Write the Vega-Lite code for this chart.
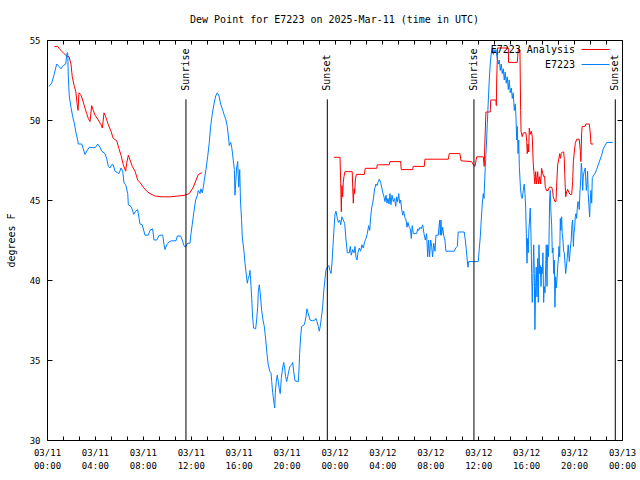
{
  "$schema": "https://vega.github.io/schema/vega-lite/v6.json",
  "width": 575,
  "height": 400,
  "autosize": {"type": "none"},
  "padding": {"left": 47, "top": 40, "right": 18, "bottom": 40},
  "background": "white",
  "title": {"text": "Dew Point for E7223 on 2025-Mar-11 (time in UTC)", "font": "DejaVu Sans Mono", "fontSize": 10, "fontWeight": "normal", "anchor": "middle", "offset": 11, "color": "black"},
  "config": {
    "view": {"stroke": "black", "strokeWidth": 1},
    "axis": {"labelFont": "DejaVu Sans Mono", "titleFont": "DejaVu Sans Mono", "labelColor": "black", "titleColor": "black", "domain": false, "tickColor": "black", "grid": false}
  },
  "datasets": {
    "obs": [
      {"series":"E7223 Analysis","seg":1,"hour":0.61,"dp":54.6},{"series":"E7223 Analysis","seg":1,"hour":0.89,"dp":54.6},{"series":"E7223 Analysis","seg":1,"hour":1.09,"dp":54.4},{"series":"E7223 Analysis","seg":1,"hour":1.36,"dp":54.2},{"series":"E7223 Analysis","seg":1,"hour":1.64,"dp":54.0},{"series":"E7223 Analysis","seg":1,"hour":1.84,"dp":53.96},{"series":"E7223 Analysis","seg":1,"hour":2.0,"dp":53.5},{"series":"E7223 Analysis","seg":1,"hour":2.11,"dp":52.7},{"series":"E7223 Analysis","seg":1,"hour":2.28,"dp":52.1},{"series":"E7223 Analysis","seg":1,"hour":2.4,"dp":51.8},{"series":"E7223 Analysis","seg":1,"hour":2.5,"dp":51.1},{"series":"E7223 Analysis","seg":1,"hour":2.59,"dp":50.6},{"series":"E7223 Analysis","seg":1,"hour":2.67,"dp":51.7},{"series":"E7223 Analysis","seg":1,"hour":2.81,"dp":51.6},{"series":"E7223 Analysis","seg":1,"hour":2.98,"dp":51.25},{"series":"E7223 Analysis","seg":1,"hour":3.11,"dp":50.9},{"series":"E7223 Analysis","seg":1,"hour":3.31,"dp":50.4},{"series":"E7223 Analysis","seg":1,"hour":3.45,"dp":50.1},{"series":"E7223 Analysis","seg":1,"hour":3.59,"dp":49.9},{"series":"E7223 Analysis","seg":1,"hour":3.73,"dp":50.9},{"series":"E7223 Analysis","seg":1,"hour":3.86,"dp":50.6},{"series":"E7223 Analysis","seg":1,"hour":4.01,"dp":50.3},{"series":"E7223 Analysis","seg":1,"hour":4.28,"dp":50.0},{"series":"E7223 Analysis","seg":1,"hour":4.51,"dp":49.7},{"series":"E7223 Analysis","seg":1,"hour":4.62,"dp":49.5},{"series":"E7223 Analysis","seg":1,"hour":4.76,"dp":50.45},{"series":"E7223 Analysis","seg":1,"hour":4.9,"dp":50.2},{"series":"E7223 Analysis","seg":1,"hour":5.12,"dp":49.7},{"series":"E7223 Analysis","seg":1,"hour":5.34,"dp":49.3},{"series":"E7223 Analysis","seg":1,"hour":5.53,"dp":48.85},{"series":"E7223 Analysis","seg":1,"hour":5.82,"dp":48.7},{"series":"E7223 Analysis","seg":1,"hour":6.01,"dp":48.2},{"series":"E7223 Analysis","seg":1,"hour":6.18,"dp":47.8},{"series":"E7223 Analysis","seg":1,"hour":6.37,"dp":47.2},{"series":"E7223 Analysis","seg":1,"hour":6.57,"dp":46.8},{"series":"E7223 Analysis","seg":1,"hour":6.65,"dp":47.3},{"series":"E7223 Analysis","seg":1,"hour":6.79,"dp":47.8},{"series":"E7223 Analysis","seg":1,"hour":6.93,"dp":47.5},{"series":"E7223 Analysis","seg":1,"hour":7.12,"dp":47.1},{"series":"E7223 Analysis","seg":1,"hour":7.35,"dp":46.8},{"series":"E7223 Analysis","seg":1,"hour":7.57,"dp":46.25},{"series":"E7223 Analysis","seg":1,"hour":7.76,"dp":46.1},{"series":"E7223 Analysis","seg":1,"hour":8.04,"dp":45.8},{"series":"E7223 Analysis","seg":1,"hour":8.32,"dp":45.55},{"series":"E7223 Analysis","seg":1,"hour":8.6,"dp":45.4},{"series":"E7223 Analysis","seg":1,"hour":9.01,"dp":45.25},{"series":"E7223 Analysis","seg":1,"hour":9.57,"dp":45.2},{"series":"E7223 Analysis","seg":1,"hour":10.27,"dp":45.2},{"series":"E7223 Analysis","seg":1,"hour":10.96,"dp":45.25},{"series":"E7223 Analysis","seg":1,"hour":11.52,"dp":45.3},{"series":"E7223 Analysis","seg":1,"hour":11.88,"dp":45.4},{"series":"E7223 Analysis","seg":1,"hour":12.21,"dp":45.8},{"series":"E7223 Analysis","seg":1,"hour":12.63,"dp":46.6},{"series":"E7223 Analysis","seg":1,"hour":12.91,"dp":46.7},
      {"series":"E7223 Analysis","seg":2,"hour":23.96,"dp":47.67},{"series":"E7223 Analysis","seg":2,"hour":24.46,"dp":47.67},{"series":"E7223 Analysis","seg":2,"hour":24.52,"dp":46.04},{"series":"E7223 Analysis","seg":2,"hour":24.57,"dp":44.27},{"series":"E7223 Analysis","seg":2,"hour":24.62,"dp":45.9},{"series":"E7223 Analysis","seg":2,"hour":24.68,"dp":45.2},{"series":"E7223 Analysis","seg":2,"hour":24.73,"dp":46.08},{"series":"E7223 Analysis","seg":2,"hour":24.79,"dp":46.46},{"series":"E7223 Analysis","seg":2,"hour":24.87,"dp":46.77},{"series":"E7223 Analysis","seg":2,"hour":25.48,"dp":46.77},{"series":"E7223 Analysis","seg":2,"hour":25.52,"dp":45.8},{"series":"E7223 Analysis","seg":2,"hour":25.57,"dp":44.8},{"series":"E7223 Analysis","seg":2,"hour":25.63,"dp":45.7},{"series":"E7223 Analysis","seg":2,"hour":25.68,"dp":45.4},{"series":"E7223 Analysis","seg":2,"hour":25.74,"dp":46.25},{"series":"E7223 Analysis","seg":2,"hour":25.82,"dp":46.6},{"series":"E7223 Analysis","seg":2,"hour":26.49,"dp":46.6},{"series":"E7223 Analysis","seg":2,"hour":26.57,"dp":46.98},{"series":"E7223 Analysis","seg":2,"hour":27.52,"dp":46.98},{"series":"E7223 Analysis","seg":2,"hour":27.57,"dp":47.2},{"series":"E7223 Analysis","seg":2,"hour":28.57,"dp":47.2},{"series":"E7223 Analysis","seg":2,"hour":28.63,"dp":47.4},{"series":"E7223 Analysis","seg":2,"hour":29.52,"dp":47.4},{"series":"E7223 Analysis","seg":2,"hour":29.57,"dp":46.9},{"series":"E7223 Analysis","seg":2,"hour":30.52,"dp":46.9},{"series":"E7223 Analysis","seg":2,"hour":30.58,"dp":47.1},{"series":"E7223 Analysis","seg":2,"hour":31.49,"dp":47.1},{"series":"E7223 Analysis","seg":2,"hour":31.55,"dp":47.55},{"series":"E7223 Analysis","seg":2,"hour":33.5,"dp":47.55},{"series":"E7223 Analysis","seg":2,"hour":33.58,"dp":47.9},{"series":"E7223 Analysis","seg":2,"hour":34.47,"dp":47.9},{"series":"E7223 Analysis","seg":2,"hour":34.56,"dp":47.45},{"series":"E7223 Analysis","seg":2,"hour":35.45,"dp":47.4},{"series":"E7223 Analysis","seg":2,"hour":35.59,"dp":47.2},{"series":"E7223 Analysis","seg":2,"hour":35.73,"dp":47.1},{"series":"E7223 Analysis","seg":2,"hour":35.87,"dp":47.7},{"series":"E7223 Analysis","seg":2,"hour":36.42,"dp":47.7},{"series":"E7223 Analysis","seg":2,"hour":36.5,"dp":47.1},{"series":"E7223 Analysis","seg":2,"hour":36.56,"dp":48.75},{"series":"E7223 Analysis","seg":2,"hour":36.64,"dp":50.5},{"series":"E7223 Analysis","seg":2,"hour":37.0,"dp":50.5},{"series":"E7223 Analysis","seg":2,"hour":37.04,"dp":51.25},{"series":"E7223 Analysis","seg":2,"hour":37.48,"dp":51.25},{"series":"E7223 Analysis","seg":2,"hour":37.51,"dp":50.9},{"series":"E7223 Analysis","seg":2,"hour":37.54,"dp":52.5},{"series":"E7223 Analysis","seg":2,"hour":37.62,"dp":54.5},{"series":"E7223 Analysis","seg":2,"hour":38.51,"dp":54.5},{"series":"E7223 Analysis","seg":2,"hour":38.53,"dp":53.6},{"series":"E7223 Analysis","seg":2,"hour":39.26,"dp":53.6},{"series":"E7223 Analysis","seg":2,"hour":39.34,"dp":54.4},{"series":"E7223 Analysis","seg":2,"hour":39.48,"dp":54.4},{"series":"E7223 Analysis","seg":2,"hour":39.54,"dp":50.6},{"series":"E7223 Analysis","seg":2,"hour":39.57,"dp":49.3},{"series":"E7223 Analysis","seg":2,"hour":39.67,"dp":48.96},{"series":"E7223 Analysis","seg":2,"hour":39.76,"dp":49.2},{"series":"E7223 Analysis","seg":2,"hour":39.98,"dp":49.2},{"series":"E7223 Analysis","seg":2,"hour":40.04,"dp":48.75},{"series":"E7223 Analysis","seg":2,"hour":40.09,"dp":47.9},{"series":"E7223 Analysis","seg":2,"hour":40.15,"dp":48.5},{"series":"E7223 Analysis","seg":2,"hour":40.21,"dp":48.0},{"series":"E7223 Analysis","seg":2,"hour":40.26,"dp":49.5},{"series":"E7223 Analysis","seg":2,"hour":40.34,"dp":49.1},{"series":"E7223 Analysis","seg":2,"hour":40.43,"dp":49.3},{"series":"E7223 Analysis","seg":2,"hour":40.51,"dp":48.96},{"series":"E7223 Analysis","seg":2,"hour":40.59,"dp":47.3},{"series":"E7223 Analysis","seg":2,"hour":40.68,"dp":46.46},{"series":"E7223 Analysis","seg":2,"hour":40.73,"dp":46.0},{"series":"E7223 Analysis","seg":2,"hour":40.79,"dp":46.77},{"series":"E7223 Analysis","seg":2,"hour":40.87,"dp":46.0},{"series":"E7223 Analysis","seg":2,"hour":40.96,"dp":46.77},{"series":"E7223 Analysis","seg":2,"hour":41.04,"dp":46.0},{"series":"E7223 Analysis","seg":2,"hour":41.13,"dp":46.46},{"series":"E7223 Analysis","seg":2,"hour":41.21,"dp":46.0},{"series":"E7223 Analysis","seg":2,"hour":41.29,"dp":46.98},{"series":"E7223 Analysis","seg":2,"hour":41.38,"dp":46.67},{"series":"E7223 Analysis","seg":2,"hour":41.46,"dp":46.46},{"series":"E7223 Analysis","seg":2,"hour":41.54,"dp":46.5},{"series":"E7223 Analysis","seg":2,"hour":41.59,"dp":45.83},{"series":"E7223 Analysis","seg":2,"hour":41.71,"dp":45.58},{"series":"E7223 Analysis","seg":2,"hour":41.84,"dp":45.6},{"series":"E7223 Analysis","seg":2,"hour":41.93,"dp":45.8},{"series":"E7223 Analysis","seg":2,"hour":42.13,"dp":45.8},{"series":"E7223 Analysis","seg":2,"hour":42.21,"dp":45.58},{"series":"E7223 Analysis","seg":2,"hour":42.26,"dp":45.2},{"series":"E7223 Analysis","seg":2,"hour":42.4,"dp":44.9},{"series":"E7223 Analysis","seg":2,"hour":42.49,"dp":44.9},{"series":"E7223 Analysis","seg":2,"hour":42.55,"dp":46.0},{"series":"E7223 Analysis","seg":2,"hour":42.63,"dp":47.2},{"series":"E7223 Analysis","seg":2,"hour":42.71,"dp":47.5},{"series":"E7223 Analysis","seg":2,"hour":42.8,"dp":47.9},{"series":"E7223 Analysis","seg":2,"hour":42.85,"dp":47.6},{"series":"E7223 Analysis","seg":2,"hour":42.93,"dp":47.9},{"series":"E7223 Analysis","seg":2,"hour":43.01,"dp":48.0},{"series":"E7223 Analysis","seg":2,"hour":43.13,"dp":48.0},{"series":"E7223 Analysis","seg":2,"hour":43.18,"dp":47.6},{"series":"E7223 Analysis","seg":2,"hour":43.24,"dp":46.25},{"series":"E7223 Analysis","seg":2,"hour":43.3,"dp":45.2},{"series":"E7223 Analysis","seg":2,"hour":43.38,"dp":45.5},{"series":"E7223 Analysis","seg":2,"hour":43.46,"dp":45.67},{"series":"E7223 Analysis","seg":2,"hour":43.55,"dp":45.5},{"series":"E7223 Analysis","seg":2,"hour":43.66,"dp":45.35},{"series":"E7223 Analysis","seg":2,"hour":43.8,"dp":45.35},{"series":"E7223 Analysis","seg":2,"hour":43.88,"dp":46.15},{"series":"E7223 Analysis","seg":2,"hour":43.94,"dp":47.4},{"series":"E7223 Analysis","seg":2,"hour":44.02,"dp":48.0},{"series":"E7223 Analysis","seg":2,"hour":44.1,"dp":48.54},{"series":"E7223 Analysis","seg":2,"hour":44.22,"dp":48.8},{"series":"E7223 Analysis","seg":2,"hour":44.43,"dp":48.8},{"series":"E7223 Analysis","seg":2,"hour":44.52,"dp":48.1},{"series":"E7223 Analysis","seg":2,"hour":44.57,"dp":47.4},{"series":"E7223 Analysis","seg":2,"hour":44.63,"dp":49.2},{"series":"E7223 Analysis","seg":2,"hour":44.68,"dp":49.6},{"series":"E7223 Analysis","seg":2,"hour":44.91,"dp":49.6},{"series":"E7223 Analysis","seg":2,"hour":44.99,"dp":49.75},{"series":"E7223 Analysis","seg":2,"hour":45.27,"dp":49.75},{"series":"E7223 Analysis","seg":2,"hour":45.35,"dp":49.2},{"series":"E7223 Analysis","seg":2,"hour":45.41,"dp":48.5},{"series":"E7223 Analysis","seg":2,"hour":45.6,"dp":48.5},
      {"series":"E7223","seg":3,"hour":0.17,"dp":52.1},{"series":"E7223","seg":3,"hour":0.39,"dp":52.3},{"series":"E7223","seg":3,"hour":0.58,"dp":52.8},{"series":"E7223","seg":3,"hour":0.81,"dp":53.5},{"series":"E7223","seg":3,"hour":0.94,"dp":53.4},{"series":"E7223","seg":3,"hour":1.17,"dp":53.2},{"series":"E7223","seg":3,"hour":1.36,"dp":53.4},{"series":"E7223","seg":3,"hour":1.56,"dp":53.5},{"series":"E7223","seg":3,"hour":1.67,"dp":54.2},{"series":"E7223","seg":3,"hour":1.73,"dp":54.2},{"series":"E7223","seg":3,"hour":1.78,"dp":52.7},{"series":"E7223","seg":3,"hour":1.86,"dp":51.5},{"series":"E7223","seg":3,"hour":2.0,"dp":50.8},{"series":"E7223","seg":3,"hour":2.15,"dp":50.2},{"series":"E7223","seg":3,"hour":2.28,"dp":49.8},{"series":"E7223","seg":3,"hour":2.42,"dp":49.2},{"series":"E7223","seg":3,"hour":2.56,"dp":48.75},{"series":"E7223","seg":3,"hour":2.61,"dp":48.5},{"series":"E7223","seg":3,"hour":2.9,"dp":48.5},{"series":"E7223","seg":3,"hour":3.03,"dp":48.2},{"series":"E7223","seg":3,"hour":3.17,"dp":47.85},{"series":"E7223","seg":3,"hour":3.31,"dp":48.05},{"series":"E7223","seg":3,"hour":3.53,"dp":48.3},{"series":"E7223","seg":3,"hour":3.86,"dp":48.27},{"series":"E7223","seg":3,"hour":4.07,"dp":48.3},{"series":"E7223","seg":3,"hour":4.23,"dp":48.5},{"series":"E7223","seg":3,"hour":4.42,"dp":48.3},{"series":"E7223","seg":3,"hour":4.57,"dp":48.05},{"series":"E7223","seg":3,"hour":4.84,"dp":47.9},{"series":"E7223","seg":3,"hour":4.98,"dp":47.6},{"series":"E7223","seg":3,"hour":5.12,"dp":47.1},{"series":"E7223","seg":3,"hour":5.26,"dp":47.0},{"series":"E7223","seg":3,"hour":5.4,"dp":47.2},{"series":"E7223","seg":3,"hour":5.53,"dp":47.2},{"series":"E7223","seg":3,"hour":5.68,"dp":46.8},{"series":"E7223","seg":3,"hour":5.9,"dp":46.7},{"series":"E7223","seg":3,"hour":6.01,"dp":46.65},{"series":"E7223","seg":3,"hour":6.18,"dp":47.0},{"series":"E7223","seg":3,"hour":6.32,"dp":46.8},{"series":"E7223","seg":3,"hour":6.43,"dp":46.05},{"series":"E7223","seg":3,"hour":6.57,"dp":45.95},{"series":"E7223","seg":3,"hour":6.74,"dp":45.4},{"series":"E7223","seg":3,"hour":6.79,"dp":44.7},{"series":"E7223","seg":3,"hour":7.01,"dp":44.6},{"series":"E7223","seg":3,"hour":7.12,"dp":44.4},{"series":"E7223","seg":3,"hour":7.24,"dp":44.1},{"series":"E7223","seg":3,"hour":7.4,"dp":44.3},{"series":"E7223","seg":3,"hour":7.57,"dp":44.4},{"series":"E7223","seg":3,"hour":7.76,"dp":43.5},{"series":"E7223","seg":3,"hour":7.95,"dp":43.45},{"series":"E7223","seg":3,"hour":8.18,"dp":42.8},{"series":"E7223","seg":3,"hour":8.46,"dp":42.8},{"series":"E7223","seg":3,"hour":8.6,"dp":43.1},{"series":"E7223","seg":3,"hour":8.82,"dp":43.2},{"series":"E7223","seg":3,"hour":8.93,"dp":42.5},{"series":"E7223","seg":3,"hour":9.16,"dp":42.5},{"series":"E7223","seg":3,"hour":9.37,"dp":42.8},{"series":"E7223","seg":3,"hour":9.66,"dp":42.8},{"series":"E7223","seg":3,"hour":9.77,"dp":42.2},{"series":"E7223","seg":3,"hour":9.85,"dp":41.9},{"series":"E7223","seg":3,"hour":9.99,"dp":42.2},{"series":"E7223","seg":3,"hour":10.21,"dp":42.4},{"series":"E7223","seg":3,"hour":10.41,"dp":42.45},{"series":"E7223","seg":3,"hour":10.77,"dp":42.45},{"series":"E7223","seg":3,"hour":10.88,"dp":42.75},{"series":"E7223","seg":3,"hour":11.16,"dp":42.75},{"series":"E7223","seg":3,"hour":11.29,"dp":42.5},{"series":"E7223","seg":3,"hour":11.46,"dp":42.1},{"series":"E7223","seg":3,"hour":11.6,"dp":42.1},{"series":"E7223","seg":3,"hour":11.74,"dp":42.3},{"series":"E7223","seg":3,"hour":11.94,"dp":42.3},{"series":"E7223","seg":3,"hour":12.02,"dp":42.9},{"series":"E7223","seg":3,"hour":12.13,"dp":43.5},{"series":"E7223","seg":3,"hour":12.27,"dp":44.3},{"series":"E7223","seg":3,"hour":12.41,"dp":45.0},{"series":"E7223","seg":3,"hour":12.55,"dp":45.3},{"series":"E7223","seg":3,"hour":12.63,"dp":45.6},{"series":"E7223","seg":3,"hour":12.77,"dp":45.4},{"series":"E7223","seg":3,"hour":12.85,"dp":45.7},{"series":"E7223","seg":3,"hour":12.96,"dp":45.45},{"series":"E7223","seg":3,"hour":13.05,"dp":45.8},{"series":"E7223","seg":3,"hour":13.13,"dp":46.25},{"series":"E7223","seg":3,"hour":13.27,"dp":46.9},{"series":"E7223","seg":3,"hour":13.41,"dp":47.7},{"series":"E7223","seg":3,"hour":13.55,"dp":48.6},{"series":"E7223","seg":3,"hour":13.66,"dp":49.6},{"series":"E7223","seg":3,"hour":13.8,"dp":50.4},{"series":"E7223","seg":3,"hour":13.94,"dp":51.0},{"series":"E7223","seg":3,"hour":14.08,"dp":51.5},{"series":"E7223","seg":3,"hour":14.22,"dp":51.7},{"series":"E7223","seg":3,"hour":14.36,"dp":51.5},{"series":"E7223","seg":3,"hour":14.5,"dp":51.0},{"series":"E7223","seg":3,"hour":14.67,"dp":50.6},{"series":"E7223","seg":3,"hour":14.8,"dp":50.3},{"series":"E7223","seg":3,"hour":14.94,"dp":50.0},{"series":"E7223","seg":3,"hour":15.05,"dp":49.6},{"series":"E7223","seg":3,"hour":15.17,"dp":48.75},{"series":"E7223","seg":3,"hour":15.22,"dp":48.4},{"series":"E7223","seg":3,"hour":15.33,"dp":48.6},{"series":"E7223","seg":3,"hour":15.42,"dp":48.3},{"series":"E7223","seg":3,"hour":15.55,"dp":47.5},{"series":"E7223","seg":3,"hour":15.64,"dp":46.9},{"series":"E7223","seg":3,"hour":15.69,"dp":45.3},{"series":"E7223","seg":3,"hour":15.83,"dp":47.0},{"series":"E7223","seg":3,"hour":15.92,"dp":47.4},{"series":"E7223","seg":3,"hour":16.0,"dp":45.8},{"series":"E7223","seg":3,"hour":16.09,"dp":46.9},{"series":"E7223","seg":3,"hour":16.15,"dp":45.0},{"series":"E7223","seg":3,"hour":16.24,"dp":43.8},{"series":"E7223","seg":3,"hour":16.3,"dp":42.7},{"series":"E7223","seg":3,"hour":16.44,"dp":41.8},{"series":"E7223","seg":3,"hour":16.53,"dp":41.05},{"series":"E7223","seg":3,"hour":16.61,"dp":40.5},{"series":"E7223","seg":3,"hour":16.72,"dp":39.8},{"series":"E7223","seg":3,"hour":16.8,"dp":40.1},{"series":"E7223","seg":3,"hour":16.89,"dp":40.3},{"series":"E7223","seg":3,"hour":16.94,"dp":40.6},{"series":"E7223","seg":3,"hour":17.0,"dp":40.0},{"series":"E7223","seg":3,"hour":17.09,"dp":38.85},{"series":"E7223","seg":3,"hour":17.17,"dp":37.6},{"series":"E7223","seg":3,"hour":17.25,"dp":37.0},{"series":"E7223","seg":3,"hour":17.42,"dp":36.95},{"series":"E7223","seg":3,"hour":17.5,"dp":37.5},{"series":"E7223","seg":3,"hour":17.59,"dp":38.3},{"series":"E7223","seg":3,"hour":17.64,"dp":39.3},{"series":"E7223","seg":3,"hour":17.72,"dp":39.7},{"series":"E7223","seg":3,"hour":17.8,"dp":39.2},{"series":"E7223","seg":3,"hour":17.92,"dp":38.1},{"series":"E7223","seg":3,"hour":18.03,"dp":37.5},{"series":"E7223","seg":3,"hour":18.14,"dp":37.1},{"series":"E7223","seg":3,"hour":18.26,"dp":36.25},{"series":"E7223","seg":3,"hour":18.36,"dp":35.4},{"series":"E7223","seg":3,"hour":18.47,"dp":34.7},{"series":"E7223","seg":3,"hour":18.59,"dp":34.3},{"series":"E7223","seg":3,"hour":18.7,"dp":34.2},{"series":"E7223","seg":3,"hour":18.76,"dp":33.65},{"series":"E7223","seg":3,"hour":18.84,"dp":32.95},{"series":"E7223","seg":3,"hour":18.95,"dp":32.3},{"series":"E7223","seg":3,"hour":19.01,"dp":32.0},{"series":"E7223","seg":3,"hour":19.06,"dp":32.95},{"series":"E7223","seg":3,"hour":19.14,"dp":33.65},{"series":"E7223","seg":3,"hour":19.22,"dp":34.05},{"series":"E7223","seg":3,"hour":19.31,"dp":33.65},{"series":"E7223","seg":3,"hour":19.39,"dp":33.2},{"series":"E7223","seg":3,"hour":19.47,"dp":32.9},{"series":"E7223","seg":3,"hour":19.56,"dp":33.85},{"series":"E7223","seg":3,"hour":19.67,"dp":34.5},{"series":"E7223","seg":3,"hour":19.76,"dp":34.85},{"series":"E7223","seg":3,"hour":19.84,"dp":34.5},{"series":"E7223","seg":3,"hour":19.92,"dp":33.95},{"series":"E7223","seg":3,"hour":20.01,"dp":33.65},{"series":"E7223","seg":3,"hour":20.09,"dp":33.95},{"series":"E7223","seg":3,"hour":20.18,"dp":34.3},{"series":"E7223","seg":3,"hour":20.28,"dp":34.6},{"series":"E7223","seg":3,"hour":20.43,"dp":34.7},{"series":"E7223","seg":3,"hour":20.51,"dp":34.85},{"series":"E7223","seg":3,"hour":20.59,"dp":34.3},{"series":"E7223","seg":3,"hour":20.7,"dp":33.7},{"series":"E7223","seg":3,"hour":20.98,"dp":33.65},{"series":"E7223","seg":3,"hour":21.03,"dp":34.3},{"series":"E7223","seg":3,"hour":21.09,"dp":35.4},{"series":"E7223","seg":3,"hour":21.18,"dp":36.55},{"series":"E7223","seg":3,"hour":21.26,"dp":37.1},{"series":"E7223","seg":3,"hour":21.48,"dp":37.2},{"series":"E7223","seg":3,"hour":21.54,"dp":37.4},{"series":"E7223","seg":3,"hour":21.62,"dp":37.7},{"series":"E7223","seg":3,"hour":21.7,"dp":38.2},{"series":"E7223","seg":3,"hour":21.81,"dp":37.9},{"series":"E7223","seg":3,"hour":21.95,"dp":37.5},{"series":"E7223","seg":3,"hour":22.14,"dp":37.45},{"series":"E7223","seg":3,"hour":22.37,"dp":37.5},{"series":"E7223","seg":3,"hour":22.45,"dp":37.6},{"series":"E7223","seg":3,"hour":22.54,"dp":37.4},{"series":"E7223","seg":3,"hour":22.65,"dp":37.1},{"series":"E7223","seg":3,"hour":22.73,"dp":36.8},{"series":"E7223","seg":3,"hour":22.81,"dp":37.1},{"series":"E7223","seg":3,"hour":22.9,"dp":37.6},{"series":"E7223","seg":3,"hour":23.01,"dp":38.3},{"series":"E7223","seg":3,"hour":23.1,"dp":39.3},{"series":"E7223","seg":3,"hour":23.21,"dp":40.1},{"series":"E7223","seg":3,"hour":23.29,"dp":40.65},{"series":"E7223","seg":3,"hour":23.4,"dp":40.8},{"series":"E7223","seg":3,"hour":23.54,"dp":40.9},{"series":"E7223","seg":3,"hour":23.62,"dp":40.6},{"series":"E7223","seg":3,"hour":23.71,"dp":40.4},{"series":"E7223","seg":3,"hour":23.79,"dp":41.05},{"series":"E7223","seg":3,"hour":23.87,"dp":42.1},{"series":"E7223","seg":3,"hour":23.96,"dp":43.2},{"series":"E7223","seg":3,"hour":24.04,"dp":44.1},{"series":"E7223","seg":3,"hour":24.12,"dp":44.3},{"series":"E7223","seg":3,"hour":24.21,"dp":43.95},{"series":"E7223","seg":3,"hour":24.32,"dp":43.6},{"series":"E7223","seg":3,"hour":24.43,"dp":43.75},{"series":"E7223","seg":3,"hour":24.52,"dp":43.45},{"series":"E7223","seg":3,"hour":24.62,"dp":43.95},{"series":"E7223","seg":3,"hour":24.73,"dp":43.75},{"series":"E7223","seg":3,"hour":24.85,"dp":43.55},{"series":"E7223","seg":3,"hour":24.96,"dp":42.5},{"series":"E7223","seg":3,"hour":25.07,"dp":41.7},{"series":"E7223","seg":3,"hour":25.23,"dp":41.7},{"series":"E7223","seg":3,"hour":25.32,"dp":42.1},{"series":"E7223","seg":3,"hour":25.4,"dp":41.55},{"series":"E7223","seg":3,"hour":25.52,"dp":41.9},{"series":"E7223","seg":3,"hour":25.63,"dp":41.7},{"series":"E7223","seg":3,"hour":25.71,"dp":42.1},{"series":"E7223","seg":3,"hour":25.79,"dp":41.45},{"series":"E7223","seg":3,"hour":25.88,"dp":41.25},{"series":"E7223","seg":3,"hour":25.96,"dp":41.7},{"series":"E7223","seg":3,"hour":26.07,"dp":42.0},{"series":"E7223","seg":3,"hour":26.18,"dp":41.8},{"series":"E7223","seg":3,"hour":26.29,"dp":42.2},{"series":"E7223","seg":3,"hour":26.4,"dp":42.0},{"series":"E7223","seg":3,"hour":26.52,"dp":42.4},{"series":"E7223","seg":3,"hour":26.63,"dp":42.6},{"series":"E7223","seg":3,"hour":26.74,"dp":42.9},{"series":"E7223","seg":3,"hour":26.85,"dp":43.4},{"series":"E7223","seg":3,"hour":26.94,"dp":43.1},{"series":"E7223","seg":3,"hour":27.02,"dp":43.95},{"series":"E7223","seg":3,"hour":27.1,"dp":44.5},{"series":"E7223","seg":3,"hour":27.19,"dp":44.8},{"series":"E7223","seg":3,"hour":27.27,"dp":45.2},{"series":"E7223","seg":3,"hour":27.35,"dp":45.7},{"series":"E7223","seg":3,"hour":27.46,"dp":46.0},{"series":"E7223","seg":3,"hour":27.55,"dp":45.9},{"series":"E7223","seg":3,"hour":27.63,"dp":46.1},{"series":"E7223","seg":3,"hour":27.74,"dp":46.3},{"series":"E7223","seg":3,"hour":27.85,"dp":46.1},{"series":"E7223","seg":3,"hour":27.94,"dp":45.8},{"series":"E7223","seg":3,"hour":28.02,"dp":45.5},{"series":"E7223","seg":3,"hour":28.13,"dp":45.2},{"series":"E7223","seg":3,"hour":28.21,"dp":44.9},{"series":"E7223","seg":3,"hour":28.3,"dp":45.3},{"series":"E7223","seg":3,"hour":28.38,"dp":44.8},{"series":"E7223","seg":3,"hour":28.46,"dp":45.1},{"series":"E7223","seg":3,"hour":28.55,"dp":44.75},{"series":"E7223","seg":3,"hour":28.63,"dp":45.4},{"series":"E7223","seg":3,"hour":28.71,"dp":44.7},{"series":"E7223","seg":3,"hour":28.8,"dp":45.3},{"series":"E7223","seg":3,"hour":28.91,"dp":44.9},{"series":"E7223","seg":3,"hour":29.02,"dp":45.1},{"series":"E7223","seg":3,"hour":29.11,"dp":44.6},{"series":"E7223","seg":3,"hour":29.19,"dp":45.2},{"series":"E7223","seg":3,"hour":29.27,"dp":44.9},{"series":"E7223","seg":3,"hour":29.36,"dp":45.4},{"series":"E7223","seg":3,"hour":29.44,"dp":44.8},{"series":"E7223","seg":3,"hour":29.52,"dp":45.0},{"series":"E7223","seg":3,"hour":29.61,"dp":44.4},{"series":"E7223","seg":3,"hour":29.69,"dp":44.05},{"series":"E7223","seg":3,"hour":29.77,"dp":44.3},{"series":"E7223","seg":3,"hour":29.88,"dp":43.9},{"series":"E7223","seg":3,"hour":29.97,"dp":43.75},{"series":"E7223","seg":3,"hour":30.05,"dp":43.3},{"series":"E7223","seg":3,"hour":30.13,"dp":43.6},{"series":"E7223","seg":3,"hour":30.24,"dp":43.3},{"series":"E7223","seg":3,"hour":30.33,"dp":43.2},{"series":"E7223","seg":3,"hour":30.41,"dp":42.6},{"series":"E7223","seg":3,"hour":30.49,"dp":43.4},{"series":"E7223","seg":3,"hour":30.58,"dp":42.9},{"series":"E7223","seg":3,"hour":30.86,"dp":42.9},{"series":"E7223","seg":3,"hour":30.94,"dp":43.2},{"series":"E7223","seg":3,"hour":31.02,"dp":43.1},{"series":"E7223","seg":3,"hour":31.13,"dp":43.3},{"series":"E7223","seg":3,"hour":31.24,"dp":43.2},{"series":"E7223","seg":3,"hour":31.36,"dp":43.45},{"series":"E7223","seg":3,"hour":31.47,"dp":42.9},{"series":"E7223","seg":3,"hour":31.58,"dp":42.5},{"series":"E7223","seg":3,"hour":31.69,"dp":42.9},{"series":"E7223","seg":3,"hour":31.78,"dp":41.45},{"series":"E7223","seg":3,"hour":31.86,"dp":42.5},{"series":"E7223","seg":3,"hour":31.94,"dp":41.45},{"series":"E7223","seg":3,"hour":32.03,"dp":42.5},{"series":"E7223","seg":3,"hour":32.11,"dp":42.1},{"series":"E7223","seg":3,"hour":32.19,"dp":41.45},{"series":"E7223","seg":3,"hour":32.28,"dp":42.3},{"series":"E7223","seg":3,"hour":32.39,"dp":41.8},{"series":"E7223","seg":3,"hour":32.47,"dp":42.8},{"series":"E7223","seg":3,"hour":32.66,"dp":42.8},{"series":"E7223","seg":3,"hour":32.72,"dp":43.3},{"series":"E7223","seg":3,"hour":32.78,"dp":43.75},{"series":"E7223","seg":3,"hour":32.83,"dp":42.8},{"series":"E7223","seg":3,"hour":32.89,"dp":43.75},{"series":"E7223","seg":3,"hour":32.94,"dp":42.8},{"series":"E7223","seg":3,"hour":33.03,"dp":43.3},{"series":"E7223","seg":3,"hour":33.11,"dp":42.8},{"series":"E7223","seg":3,"hour":33.22,"dp":42.5},{"series":"E7223","seg":3,"hour":33.3,"dp":41.8},{"series":"E7223","seg":3,"hour":34.0,"dp":41.8},{"series":"E7223","seg":3,"hour":34.12,"dp":42.0},{"series":"E7223","seg":3,"hour":34.25,"dp":42.1},{"series":"E7223","seg":3,"hour":34.33,"dp":43.0},{"series":"E7223","seg":3,"hour":34.83,"dp":43.0},{"series":"E7223","seg":3,"hour":34.92,"dp":42.5},{"series":"E7223","seg":3,"hour":35.0,"dp":41.9},{"series":"E7223","seg":3,"hour":35.08,"dp":41.25},{"series":"E7223","seg":3,"hour":35.14,"dp":40.8},{"series":"E7223","seg":3,"hour":35.2,"dp":41.15},{"series":"E7223","seg":3,"hour":36.0,"dp":41.15},{"series":"E7223","seg":3,"hour":36.08,"dp":41.9},{"series":"E7223","seg":3,"hour":36.17,"dp":42.7},{"series":"E7223","seg":3,"hour":36.25,"dp":43.75},{"series":"E7223","seg":3,"hour":36.34,"dp":44.8},{"series":"E7223","seg":3,"hour":36.42,"dp":45.4},{"series":"E7223","seg":3,"hour":36.48,"dp":45.1},{"series":"E7223","seg":3,"hour":36.54,"dp":46.25},{"series":"E7223","seg":3,"hour":36.59,"dp":47.1},{"series":"E7223","seg":3,"hour":36.67,"dp":48.3},{"series":"E7223","seg":3,"hour":36.76,"dp":49.8},{"series":"E7223","seg":3,"hour":36.84,"dp":51.25},{"series":"E7223","seg":3,"hour":36.92,"dp":52.5},{"series":"E7223","seg":3,"hour":37.0,"dp":53.5},{"series":"E7223","seg":3,"hour":37.09,"dp":54.2},{"series":"E7223","seg":3,"hour":37.17,"dp":54.5},{"series":"E7223","seg":3,"hour":37.25,"dp":54.1},{"series":"E7223","seg":3,"hour":37.31,"dp":54.4},{"series":"E7223","seg":3,"hour":37.4,"dp":54.2},{"series":"E7223","seg":3,"hour":37.48,"dp":54.4},{"series":"E7223","seg":3,"hour":37.56,"dp":53.96},{"series":"E7223","seg":3,"hour":37.67,"dp":53.5},{"series":"E7223","seg":3,"hour":37.75,"dp":53.75},{"series":"E7223","seg":3,"hour":37.84,"dp":53.1},{"series":"E7223","seg":3,"hour":37.92,"dp":53.5},{"series":"E7223","seg":3,"hour":38.0,"dp":52.9},{"series":"E7223","seg":3,"hour":38.09,"dp":53.2},{"series":"E7223","seg":3,"hour":38.17,"dp":52.5},{"series":"E7223","seg":3,"hour":38.25,"dp":53.0},{"series":"E7223","seg":3,"hour":38.34,"dp":52.3},{"series":"E7223","seg":3,"hour":38.42,"dp":52.7},{"series":"E7223","seg":3,"hour":38.51,"dp":51.9},{"series":"E7223","seg":3,"hour":38.59,"dp":52.5},{"series":"E7223","seg":3,"hour":38.67,"dp":51.7},{"series":"E7223","seg":3,"hour":38.76,"dp":52.0},{"series":"E7223","seg":3,"hour":38.84,"dp":51.35},{"series":"E7223","seg":3,"hour":38.92,"dp":51.7},{"series":"E7223","seg":3,"hour":39.01,"dp":50.6},{"series":"E7223","seg":3,"hour":39.09,"dp":51.0},{"series":"E7223","seg":3,"hour":39.15,"dp":50.2},{"series":"E7223","seg":3,"hour":39.21,"dp":48.75},{"series":"E7223","seg":3,"hour":39.26,"dp":49.6},{"series":"E7223","seg":3,"hour":39.32,"dp":47.9},{"series":"E7223","seg":3,"hour":39.38,"dp":48.75},{"series":"E7223","seg":3,"hour":39.43,"dp":47.1},{"series":"E7223","seg":3,"hour":39.52,"dp":45.8},{"series":"E7223","seg":3,"hour":39.6,"dp":45.2},{"series":"E7223","seg":3,"hour":39.67,"dp":45.1},{"series":"E7223","seg":3,"hour":39.76,"dp":45.6},{"series":"E7223","seg":3,"hour":39.84,"dp":46.0},{"series":"E7223","seg":3,"hour":39.9,"dp":45.4},{"series":"E7223","seg":3,"hour":39.96,"dp":44.5},{"series":"E7223","seg":3,"hour":40.01,"dp":42.9},{"series":"E7223","seg":3,"hour":40.07,"dp":41.05},{"series":"E7223","seg":3,"hour":40.12,"dp":42.6},{"series":"E7223","seg":3,"hour":40.17,"dp":41.7},{"series":"E7223","seg":3,"hour":40.23,"dp":43.2},{"series":"E7223","seg":3,"hour":40.29,"dp":43.85},{"series":"E7223","seg":3,"hour":40.34,"dp":44.5},{"series":"E7223","seg":3,"hour":40.4,"dp":42.9},{"series":"E7223","seg":3,"hour":40.46,"dp":40.4},{"series":"E7223","seg":3,"hour":40.51,"dp":38.6},{"series":"E7223","seg":3,"hour":40.57,"dp":40.4},{"series":"E7223","seg":3,"hour":40.63,"dp":42.2},{"series":"E7223","seg":3,"hour":40.68,"dp":40.4},{"series":"E7223","seg":3,"hour":40.73,"dp":36.9},{"series":"E7223","seg":3,"hour":40.79,"dp":39.6},{"series":"E7223","seg":3,"hour":40.84,"dp":40.8},{"series":"E7223","seg":3,"hour":40.9,"dp":38.95},{"series":"E7223","seg":3,"hour":40.96,"dp":41.35},{"series":"E7223","seg":3,"hour":41.01,"dp":38.6},{"series":"E7223","seg":3,"hour":41.07,"dp":42.2},{"series":"E7223","seg":3,"hour":41.13,"dp":40.4},{"series":"E7223","seg":3,"hour":41.18,"dp":40.9},{"series":"E7223","seg":3,"hour":41.24,"dp":39.6},{"series":"E7223","seg":3,"hour":41.29,"dp":40.8},{"series":"E7223","seg":3,"hour":41.34,"dp":40.4},{"series":"E7223","seg":3,"hour":41.4,"dp":41.7},{"series":"E7223","seg":3,"hour":41.46,"dp":38.6},{"series":"E7223","seg":3,"hour":41.51,"dp":39.6},{"series":"E7223","seg":3,"hour":41.57,"dp":39.2},{"series":"E7223","seg":3,"hour":41.63,"dp":40.8},{"series":"E7223","seg":3,"hour":41.68,"dp":42.2},{"series":"E7223","seg":3,"hour":41.74,"dp":39.6},{"series":"E7223","seg":3,"hour":41.79,"dp":42.2},{"series":"E7223","seg":3,"hour":41.84,"dp":41.45},{"series":"E7223","seg":3,"hour":41.9,"dp":42.2},{"series":"E7223","seg":3,"hour":41.96,"dp":45.0},{"series":"E7223","seg":3,"hour":42.01,"dp":45.6},{"series":"E7223","seg":3,"hour":42.07,"dp":44.2},{"series":"E7223","seg":3,"hour":42.13,"dp":43.45},{"series":"E7223","seg":3,"hour":42.18,"dp":41.7},{"series":"E7223","seg":3,"hour":42.24,"dp":42.0},{"series":"E7223","seg":3,"hour":42.3,"dp":40.4},{"series":"E7223","seg":3,"hour":42.35,"dp":41.25},{"series":"E7223","seg":3,"hour":42.4,"dp":38.3},{"series":"E7223","seg":3,"hour":42.46,"dp":40.2},{"series":"E7223","seg":3,"hour":42.51,"dp":39.5},{"series":"E7223","seg":3,"hour":42.57,"dp":40.0},{"series":"E7223","seg":3,"hour":42.63,"dp":40.8},{"series":"E7223","seg":3,"hour":42.68,"dp":41.25},{"series":"E7223","seg":3,"hour":42.74,"dp":42.1},{"series":"E7223","seg":3,"hour":42.8,"dp":41.45},{"series":"E7223","seg":3,"hour":42.85,"dp":43.85},{"series":"E7223","seg":3,"hour":42.9,"dp":43.1},{"series":"E7223","seg":3,"hour":42.96,"dp":43.95},{"series":"E7223","seg":3,"hour":43.01,"dp":42.9},{"series":"E7223","seg":3,"hour":43.07,"dp":42.5},{"series":"E7223","seg":3,"hour":43.13,"dp":41.8},{"series":"E7223","seg":3,"hour":43.18,"dp":41.7},{"series":"E7223","seg":3,"hour":43.24,"dp":41.05},{"series":"E7223","seg":3,"hour":43.3,"dp":40.4},{"series":"E7223","seg":3,"hour":43.35,"dp":40.8},{"series":"E7223","seg":3,"hour":43.41,"dp":41.25},{"series":"E7223","seg":3,"hour":43.46,"dp":41.7},{"series":"E7223","seg":3,"hour":43.51,"dp":42.2},{"series":"E7223","seg":3,"hour":43.6,"dp":41.15},{"series":"E7223","seg":3,"hour":43.68,"dp":41.9},{"series":"E7223","seg":3,"hour":43.76,"dp":42.5},{"series":"E7223","seg":3,"hour":43.82,"dp":43.45},{"series":"E7223","seg":3,"hour":43.88,"dp":43.75},{"series":"E7223","seg":3,"hour":43.94,"dp":42.1},{"series":"E7223","seg":3,"hour":43.99,"dp":42.9},{"series":"E7223","seg":3,"hour":44.05,"dp":43.3},{"series":"E7223","seg":3,"hour":44.1,"dp":43.95},{"series":"E7223","seg":3,"hour":44.16,"dp":44.15},{"series":"E7223","seg":3,"hour":44.21,"dp":43.85},{"series":"E7223","seg":3,"hour":44.26,"dp":44.4},{"series":"E7223","seg":3,"hour":44.32,"dp":44.9},{"series":"E7223","seg":3,"hour":44.38,"dp":44.8},{"series":"E7223","seg":3,"hour":44.43,"dp":44.4},{"series":"E7223","seg":3,"hour":44.49,"dp":45.5},{"series":"E7223","seg":3,"hour":44.55,"dp":46.25},{"series":"E7223","seg":3,"hour":44.6,"dp":47.3},{"series":"E7223","seg":3,"hour":44.66,"dp":46.8},{"series":"E7223","seg":3,"hour":44.72,"dp":45.6},{"series":"E7223","seg":3,"hour":44.77,"dp":46.5},{"series":"E7223","seg":3,"hour":44.85,"dp":46.8},{"series":"E7223","seg":3,"hour":44.93,"dp":47.0},{"series":"E7223","seg":3,"hour":45.02,"dp":45.6},{"series":"E7223","seg":3,"hour":45.08,"dp":46.0},{"series":"E7223","seg":3,"hour":45.13,"dp":46.8},{"series":"E7223","seg":3,"hour":45.18,"dp":45.4},{"series":"E7223","seg":3,"hour":45.24,"dp":44.6},{"series":"E7223","seg":3,"hour":45.3,"dp":43.95},{"series":"E7223","seg":3,"hour":45.35,"dp":45.0},{"series":"E7223","seg":3,"hour":45.41,"dp":45.6},{"series":"E7223","seg":3,"hour":45.47,"dp":44.8},{"series":"E7223","seg":3,"hour":45.52,"dp":46.4},{"series":"E7223","seg":3,"hour":45.6,"dp":46.5},{"series":"E7223","seg":3,"hour":45.74,"dp":46.65},{"series":"E7223","seg":3,"hour":45.88,"dp":46.9},{"series":"E7223","seg":3,"hour":46.02,"dp":47.2},{"series":"E7223","seg":3,"hour":46.16,"dp":47.5},{"series":"E7223","seg":3,"hour":46.3,"dp":47.8},{"series":"E7223","seg":3,"hour":46.44,"dp":48.2},{"series":"E7223","seg":3,"hour":46.58,"dp":48.4},{"series":"E7223","seg":3,"hour":46.72,"dp":48.6},{"series":"E7223","seg":3,"hour":47.22,"dp":48.6}
    ],
    "sun": [
      {"hour": 11.6, "event": "Sunrise"},
      {"hour": 23.4, "event": "Sunset"},
      {"hour": 35.64, "event": "Sunrise"},
      {"hour": 47.44, "event": "Sunset"}
    ]
  },
  "layer": [
    {
      "data": {"name": "obs"},
      "transform": [{"filter": "datum.series === 'E7223 Analysis'"}],
      "mark": {"type": "line", "strokeWidth": 1, "clip": true},
      "encoding": {
        "x": {"field": "hour", "type": "quantitative", "scale": {"domain": [0, 48], "nice": false, "zero": false},
          "axis": {"orient": "bottom", "title": null,
            "values": [0, 1.3333, 2.6667, 4, 5.3333, 6.6667, 8, 9.3333, 10.6667, 12, 13.3333, 14.6667, 16, 17.3333, 18.6667, 20, 21.3333, 22.6667, 24, 25.3333, 26.6667, 28, 29.3333, 30.6667, 32, 33.3333, 34.6667, 36, 37.3333, 38.6667, 40, 41.3333, 42.6667, 44, 45.3333, 46.6667, 48],
            "labelExpr": "datum.value % 4 == 0 ? [datum.value < 24 ? '03/11' : (datum.value < 48 ? '03/12' : '03/13'), (datum.value % 24 < 10 ? '0' : '') + (datum.value % 24) + ':00'] : ''",
            "tickSize": -4, "labelPadding": 12, "labelFontSize": 9, "labelLineHeight": 13, "labelBaseline": "top",
            "labelOverlap": false, "labelFlush": false, "labelBound": false}},
        "y": {"field": "dp", "type": "quantitative", "scale": {"domain": [30, 55], "nice": false, "zero": false},
          "axis": {"orient": "left", "values": [30, 35, 40, 45, 50, 55], "title": "degrees F", "titleFontSize": 10, "titleFontWeight": "normal", "titlePadding": 13,
            "tickSize": -5, "labelPadding": 12, "labelFontSize": 9, "labelOverlap": false, "labelFlush": false, "labelBound": false}},
        "color": {"field": "series", "type": "nominal",
          "scale": {"domain": ["E7223 Analysis", "E7223"], "range": ["#ff0000", "#0080ff"]},
          "legend": {"title": null, "orient": "none", "legendX": 543, "legendY": 4, "direction": "vertical",
            "symbolType": "M-2.8,0H2.8", "symbolSize": 100, "symbolStrokeWidth": 1, "labelAlign": "right", "labelOffset": -26,
            "labelFont": "DejaVu Sans Mono", "labelFontSize": 10, "labelColor": "black", "rowPadding": 4, "padding": 0}},
        "detail": {"field": "seg", "type": "nominal"}
      }
    },
    {
      "data": {"name": "obs"},
      "transform": [{"filter": "datum.series === 'E7223'"}],
      "mark": {"type": "line", "strokeWidth": 1, "clip": true},
      "encoding": {
        "x": {"field": "hour", "type": "quantitative",
          "axis": {"orient": "top", "title": null, "labels": false,
            "values": [0, 1.3333, 2.6667, 4, 5.3333, 6.6667, 8, 9.3333, 10.6667, 12, 13.3333, 14.6667, 16, 17.3333, 18.6667, 20, 21.3333, 22.6667, 24, 25.3333, 26.6667, 28, 29.3333, 30.6667, 32, 33.3333, 34.6667, 36, 37.3333, 38.6667, 40, 41.3333, 42.6667, 44, 45.3333, 46.6667, 48],
            "tickSize": -4}},
        "y": {"field": "dp", "type": "quantitative",
          "axis": {"orient": "right", "title": null, "labels": false, "values": [30, 35, 40, 45, 50, 55], "tickSize": -5}},
        "color": {"field": "series", "type": "nominal"},
        "detail": {"field": "seg", "type": "nominal"}
      }
    },
    {
      "data": {"name": "sun"},
      "mark": {"type": "rule", "color": "black", "strokeWidth": 1},
      "encoding": {
        "x": {"field": "hour", "type": "quantitative", "axis": null},
        "y": {"datum": 51.29, "type": "quantitative", "axis": null},
        "y2": {"datum": 30}
      }
    },
    {
      "data": {"name": "sun"},
      "mark": {"type": "text", "angle": 270, "align": "left", "baseline": "middle", "font": "DejaVu Sans Mono", "fontSize": 10, "color": "black", "dx": 1},
      "encoding": {
        "x": {"field": "hour", "type": "quantitative", "axis": null},
        "y": {"datum": 51.77, "type": "quantitative", "axis": null},
        "text": {"field": "event"}
      }
    }
  ],
  "resolve": {"axis": {"x": "independent", "y": "independent"}}
}
